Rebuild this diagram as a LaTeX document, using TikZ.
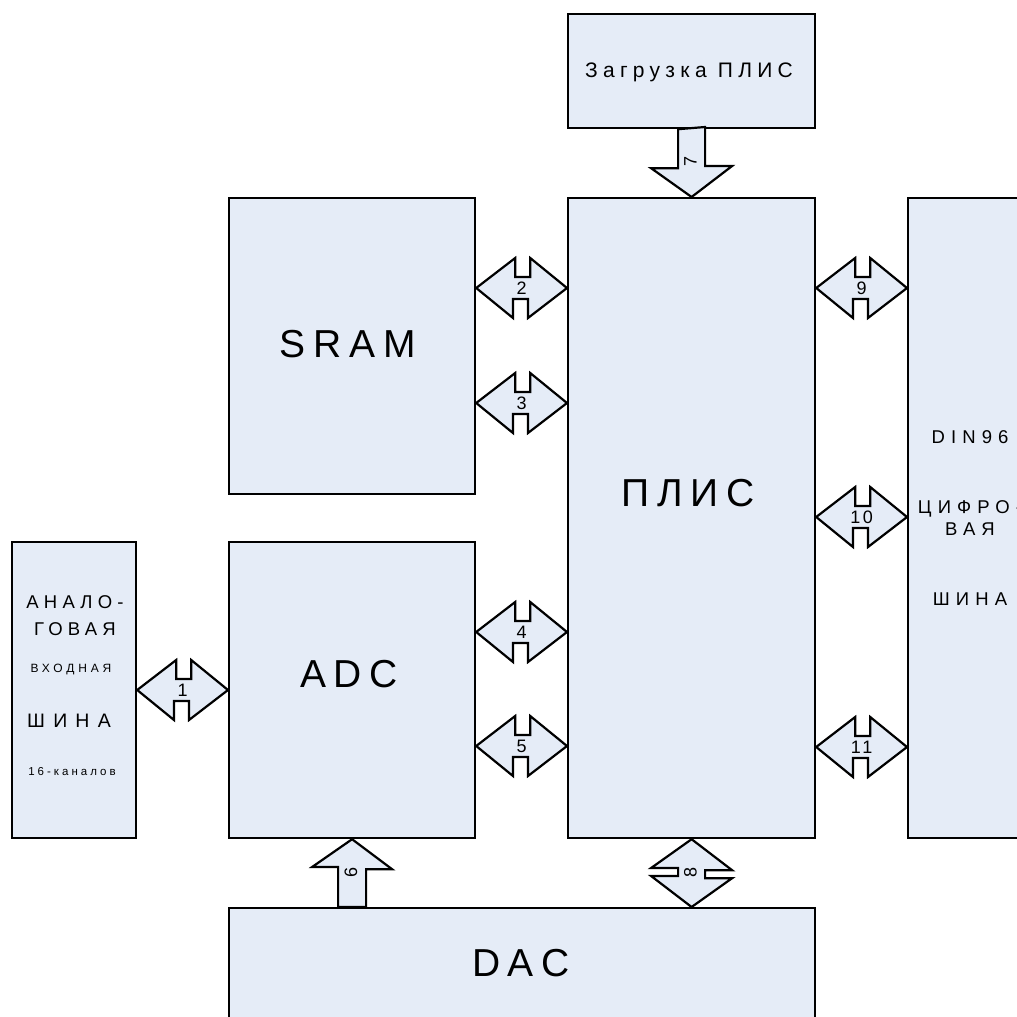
\documentclass[tikz,border=0pt]{standalone}
\usepackage{fontspec}
\setmainfont{Liberation Sans}
\usetikzlibrary{calc}
\definecolor{boxfill}{RGB}{229,236,247}
\tikzset{
  blk/.style={draw=black, fill=boxfill, line width=2.2pt, rectangle, inner sep=0pt, anchor=north west},
  barrow/.style={draw=black, fill=boxfill, line width=2.2pt, line join=miter},
  txt/.style={inner sep=0pt, anchor=base},
  big/.style={txt, font=\fontsize{39}{44}\selectfont\addfontfeatures{LetterSpace=20}},
  mid/.style={txt, font=\fontsize{21}{24}\selectfont\addfontfeatures{LetterSpace=25}},
  sml/.style={txt, font=\fontsize{18.5}{22}\selectfont\addfontfeatures{LetterSpace=33}},
  tiny/.style={txt, font=\fontsize{12}{14}\selectfont\addfontfeatures{LetterSpace=32}},
  lbl/.style={inner sep=0pt, font=\fontsize{18}{20}\selectfont\addfontfeatures{LetterSpace=15}},
}
\newcommand\harrow[5]{% left node, right node, y, label name, label text
  \draw[barrow] (#1.east |- 0,#3) -- ++(39,-30) -- ++(0,19) -- ++(15,0) -- ++(0,-19)
    -- (#2.west |- 0,#3) -- ++(-39,30) -- ++(0,-19) -- ++(-15,0) -- ++(0,19) -- cycle;
  \node[lbl] (#4) at ($(#1.east |- 0,#3)!0.5!(#2.west |- 0,#3)$) {#5};
}
\begin{document}
\begin{tikzpicture}[x=1pt,y=-1pt]
\useasboundingbox (0,0) rectangle (1017,1017);
% blocks
\node[blk, minimum width=247, minimum height=114] (load) at (567,13) {};
\node[blk, minimum width=247, minimum height=640] (fpga) at (567,197) {};
\node[blk, minimum width=246, minimum height=296] (sram) at (228,197) {};
\node[blk, minimum width=246, minimum height=296] (adc) at (228,541) {};
\node[blk, minimum width=124, minimum height=296] (ana) at (11,541) {};
\node[blk, minimum width=125, minimum height=640] (din) at (907,197) {};
\node[blk, minimum width=586, minimum height=130] (dac) at (228,907) {};
% texts
\node[mid] (tload) at (689,77) {Загрузка ПЛИС};
\node[big] (tsram) at (348,357) {SRAM};
\node[big] (tfpga) at (688,506) {ПЛИС};
\node[big] (tadc) at (349,687) {ADC};
\node[big] (tdac) at (521,976) {DAC};
\node[sml] (tdin1) at (970,443) {DIN96};
\node[sml] (tdin2) at (970,513) {ЦИФРО-};
\node[sml] (tdin3) at (970,535) {ВАЯ};
\node[sml] (tdin4) at (970,605) {ШИНА};
\node[sml, font=\fontsize{18.5}{22}\selectfont\addfontfeatures{LetterSpace=28}] (tana1) at (75,608) {АНАЛО-};
\node[sml, font=\fontsize{18.5}{22}\selectfont\addfontfeatures{LetterSpace=28}] (tana2) at (75,635) {ГОВАЯ};
\node[tiny] (tana3) at (71,672) {ВХОДНАЯ};
\node[sml, font=\fontsize{19.5}{22}\selectfont\addfontfeatures{LetterSpace=42}] (tana4) at (69,727) {ШИНА};
\node[tiny, font=\fontsize{11.5}{13}\selectfont\addfontfeatures{LetterSpace=26}] (tana5) at (72,775) {16-каналов};
% horizontal double arrows
\harrow{ana}{adc}{690}{a1}{1}
\harrow{sram}{fpga}{288}{a2}{2}
\harrow{sram}{fpga}{403}{a3}{3}
\harrow{adc}{fpga}{632}{a4}{4}
\harrow{adc}{fpga}{746}{a5}{5}
\harrow{fpga}{din}{288}{a9}{9}
\harrow{fpga}{din}{517}{a10}{10}
\harrow{fpga}{din}{747}{a11}{11}
% arrow 7 (down)
\draw[barrow] ($(load.south)+(-13.5,0)$) -- ++(0,39) -- ++(-27,0) -- (fpga.north)
  -- ++(40.5,-31) -- ++(-27,0) -- ++(0,-39) -- cycle;
\node[lbl, rotate=90] (a7) at (690.5,161) {7};
% arrow 6 (up)
\draw[barrow] (adc.south) -- ++(40,30) -- ++(-26,0) -- ($(adc.south |- dac.north)+(14,0)$)
  -- ++(-28,0) -- ++(0,-40) -- ++(-26,0) -- cycle;
\node[lbl, rotate=90] (a6) at (351,872) {6};
% arrow 8 (double vertical)
\draw[barrow] (fpga.south) -- ++(40.5,31) -- ++(-27,0) -- ++(0,8) -- ++(27,0)
  -- (fpga.south |- dac.north) -- ++(-40.5,-31) -- ++(27,0) -- ++(0,-8) -- ++(-27,0) -- cycle;
\node[lbl, rotate=90] (a8) at (690.5,872) {8};
\end{tikzpicture}
\end{document}
